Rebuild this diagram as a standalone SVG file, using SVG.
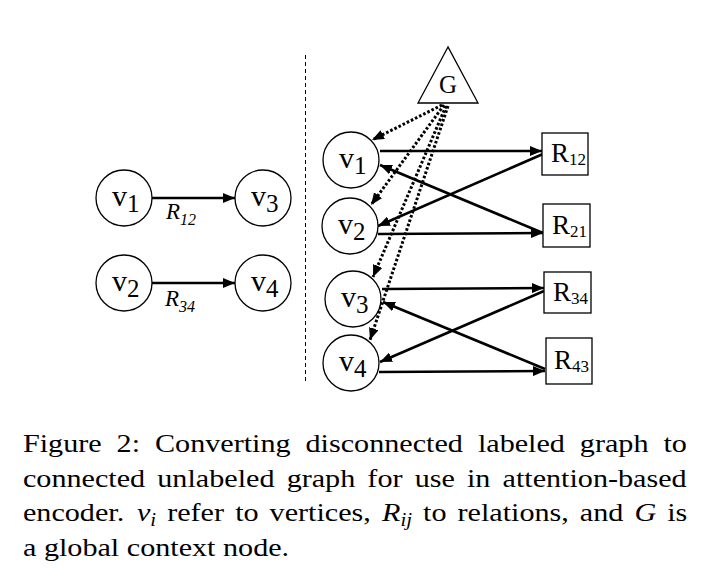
<svg xmlns="http://www.w3.org/2000/svg" width="706" height="587" viewBox="0 0 706 587">
<style>
.node{fill:#fff;stroke:#000;stroke-width:1.3}
.lbl{font-family:"Liberation Serif","Times New Roman",serif;fill:#000}
.v{font-size:30px}
.sub{font-size:25px}
.rb{font-size:27px}
.rs{font-size:17px}
.it{font-style:italic}
.edge{stroke:#000;stroke-width:2.6;fill:none}
.dot{stroke:#000;stroke-width:3;fill:none;stroke-dasharray:2.6 2}
.cap{font-family:"Liberation Serif","Times New Roman",serif;font-size:26px;fill:#000}
.m{font-style:italic}
.ms{font-style:italic;font-size:18px}
</style>
<defs>
<marker id="ah" markerUnits="userSpaceOnUse" markerWidth="12" markerHeight="10" refX="12" refY="5" orient="auto">
<path d="M0,0 L12,5 L0,10 z" fill="#000"/>
</marker>
</defs>
<rect width="706" height="587" fill="#fff"/>
<line x1="305.5" y1="55" x2="305.5" y2="383" stroke="#000" stroke-width="1" stroke-dasharray="4 3"/>
<g id="connectors">
<line class="edge" x1="152" y1="198" x2="235" y2="198" marker-end="url(#ah)"/>
<line class="edge" x1="152" y1="283" x2="235" y2="283" marker-end="url(#ah)"/>
<line class="edge" x1="380" y1="151" x2="542" y2="151" marker-end="url(#ah)"/>
<line class="edge" x1="543" y1="154" x2="378" y2="226" marker-end="url(#ah)"/>
<line class="edge" x1="543" y1="233" x2="380" y2="165" marker-end="url(#ah)"/>
<line class="edge" x1="378" y1="234" x2="543" y2="233" marker-end="url(#ah)"/>
<line class="edge" x1="382" y1="289" x2="544" y2="288" marker-end="url(#ah)"/>
<line class="edge" x1="544" y1="291" x2="380" y2="362" marker-end="url(#ah)"/>
<line class="edge" x1="545" y1="369" x2="383" y2="302" marker-end="url(#ah)"/>
<line class="edge" x1="379" y1="372" x2="545" y2="371" marker-end="url(#ah)"/>
<line class="dot" x1="442" y1="105" x2="372" y2="140" marker-end="url(#ah)"/>
<line class="dot" x1="444" y1="105" x2="371" y2="205" marker-end="url(#ah)"/>
<line class="dot" x1="446" y1="106" x2="373" y2="277" marker-end="url(#ah)"/>
<line class="dot" x1="448" y1="106" x2="370" y2="340" marker-end="url(#ah)"/>
<text class="lbl it" x="166" y="219" font-size="23">R<tspan font-size="16" dy="6">12</tspan></text>
<text class="lbl it" x="165" y="306" font-size="23">R<tspan font-size="16" dy="6">34</tspan></text>
</g>
<g id="L1"><circle class="node" cx="124" cy="198" r="28"/><text class="lbl" x="112" y="206"><tspan class="v">v</tspan><tspan class="sub" dy="6">1</tspan></text></g>
<g id="L3"><circle class="node" cx="263" cy="198" r="28"/><text class="lbl" x="251" y="206"><tspan class="v">v</tspan><tspan class="sub" dy="6">3</tspan></text></g>
<g id="L2"><circle class="node" cx="124" cy="283" r="28"/><text class="lbl" x="112" y="291"><tspan class="v">v</tspan><tspan class="sub" dy="6">2</tspan></text></g>
<g id="L4"><circle class="node" cx="263" cy="283" r="28"/><text class="lbl" x="251" y="291"><tspan class="v">v</tspan><tspan class="sub" dy="6">4</tspan></text></g>
<g id="G"><polygon class="node" points="448,47 418,103 478,103"/><text class="lbl" x="448" y="93" font-size="25" text-anchor="middle">G</text></g>
<g id="V1"><circle class="node" cx="351" cy="160" r="28"/><text class="lbl" x="339" y="168"><tspan class="v">v</tspan><tspan class="sub" dy="6">1</tspan></text></g>
<g id="V2"><circle class="node" cx="350" cy="226" r="28"/><text class="lbl" x="338" y="234"><tspan class="v">v</tspan><tspan class="sub" dy="6">2</tspan></text></g>
<g id="V3"><circle class="node" cx="353" cy="299" r="28"/><text class="lbl" x="341" y="307"><tspan class="v">v</tspan><tspan class="sub" dy="6">3</tspan></text></g>
<g id="V4"><circle class="node" cx="351" cy="363" r="28"/><text class="lbl" x="339" y="371"><tspan class="v">v</tspan><tspan class="sub" dy="6">4</tspan></text></g>
<g id="R12"><rect class="node" x="542" y="133" width="46" height="42"/><text class="lbl" x="551" y="162"><tspan class="rb">R</tspan><tspan class="rs" dy="3">12</tspan></text></g>
<g id="R21"><rect class="node" x="543" y="204" width="47" height="43"/><text class="lbl" x="552" y="234"><tspan class="rb">R</tspan><tspan class="rs" dy="3">21</tspan></text></g>
<g id="R34"><rect class="node" x="544" y="272" width="47" height="41"/><text class="lbl" x="553" y="301"><tspan class="rb">R</tspan><tspan class="rs" dy="3">34</tspan></text></g>
<g id="R43"><rect class="node" x="546" y="338" width="46" height="46"/><text class="lbl" x="554" y="369"><tspan class="rb">R</tspan><tspan class="rs" dy="3">43</tspan></text></g>
<g id="caption" transform="scale(1.16,1)">
<text class="cap" y="452"><tspan x="19.8">Figure</tspan><tspan x="100.5">2:</tspan><tspan x="133.6">Converting</tspan><tspan x="263.4">disconnected</tspan><tspan x="412">labeled</tspan><tspan x="499.9">graph</tspan><tspan x="571.9">to</tspan></text>
<text class="cap" y="487"><tspan x="19.8">connected</tspan><tspan x="135.6">unlabeled</tspan><tspan x="247.1">graph</tspan><tspan x="316.7">for</tspan><tspan x="357.5">use</tspan><tspan x="402.6">in</tspan><tspan x="433.2">attention-based</tspan></text>
<text class="cap" y="521"><tspan x="19.8">encoder.</tspan><tspan x="118.1" class="m">v</tspan><tspan x="129.6" dy="5" class="ms">i</tspan><tspan x="144.1" dy="-5">refer</tspan><tspan x="202.7">to</tspan><tspan x="232.4">vertices,</tspan><tspan x="329.3" class="m">R</tspan><tspan x="345.2" dy="5" class="ms">ij</tspan><tspan x="364.7" dy="-5">to</tspan><tspan x="394.4">relations,</tspan><tspan x="499.9">and</tspan><tspan x="546.9" class="m">G</tspan><tspan x="575.2">is</tspan></text>
<text class="cap" y="556" x="19.8">a global context node.</text>
</g>
</svg>
